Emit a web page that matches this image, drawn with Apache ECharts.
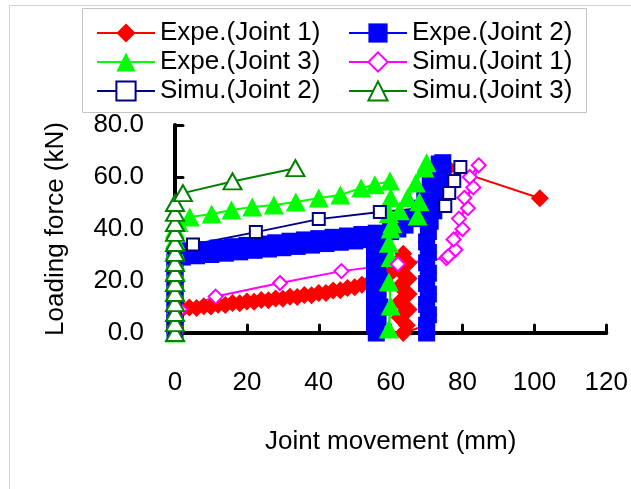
<!DOCTYPE html>
<html>
<head>
<meta charset="utf-8">
<title>Joint movement</title>
<script src="https://cdn.jsdelivr.net/npm/echarts@6.0.0/dist/echarts.min.js"></script>
<style>
  html, body { margin: 0; padding: 0; background: #fff; }
  #chart { width: 631px; height: 489px; }
</style>
</head>
<body>
<div id="chart"></div>
<script>
// 数据 [x(mm), y(kN)]
var expeJoint1 = [
  [0, 0], [0, 2], [0, 4], [0, 6], [0, 8], [0.3, 9],
  [2, 9.2], [4, 9.8], [6, 9.6], [8, 10.3], [10, 10.2], [12, 10.9], [14, 10.8], [16, 11.5],
  [18, 11.4], [20, 12.1], [22, 12], [24, 12.7], [26, 12.6], [28, 13.3], [30, 13.2], [32, 13.9],
  [34, 13.8], [36, 14.6], [38, 14.5], [40, 15.4], [42, 15.4], [44, 16.3], [46, 16.4], [48, 17.3],
  [50, 17.6], [52, 18.6], [54, 19.2], [56, 20.4], [58, 21.5], [60, 23], [61.5, 25.5], [62.5, 28], [63.5, 30.5],
  [65, 27], [62.5, 24], [65, 21], [62.5, 18], [65, 15], [62.5, 12], [65, 9], [62.5, 6], [64.5, 3], [63.5, 0],
  [70, 3], [70.5, 7], [70, 11], [70.5, 15], [70, 19], [70.5, 23], [70, 27], [70.5, 31], [70, 35], [70.5, 40],
  [71, 45], [71.5, 50], [72, 55], [73, 59], [74.5, 62], [76, 63.5], [101.5, 51.8]
]
var expeJoint2 = [
  [0, 0], [0, 3], [0, 6], [0, 9], [0, 12], [0, 15], [0, 18], [0, 21], [0, 24], [0, 27], [0, 30],
  [2, 29.2], [4, 31.6], [6, 29.7], [8, 32.1], [10, 30.2], [12, 32.7], [14, 30.7], [16, 33.2],
  [18, 31.2], [20, 33.7], [22, 31.8], [24, 34.2], [26, 32.3], [28, 34.7], [30, 32.8], [32, 35.3],
  [34, 33.3], [36, 35.8], [38, 33.8], [40, 36.3], [42, 34.4], [44, 36.8], [46, 34.9], [48, 37.3],
  [50, 35.4], [52, 37.9], [54, 35.9], [56, 38.4],
  [56.5, 36], [55.5, 33], [56.5, 30], [55.5, 27], [56.5, 24], [55.5, 21], [56.5, 18], [55.5, 15],
  [56.5, 12], [55.5, 9], [56.5, 6], [55.5, 3], [56, 0],
  [57, 10], [57, 20], [57, 30], [58, 38], [60, 39], [62, 40], [64, 41.5], [66, 44], [68, 48],
  [69.5, 53], [71, 58], [72.5, 62], [73.5, 65], [74.5, 65.5], [74.5, 61], [74, 57], [73, 52],
  [72, 47], [71, 43], [70.5, 39], [70, 35], [70.5, 31], [70, 27], [70.5, 23], [70, 19], [70.5, 15],
  [70, 11], [70.5, 7], [70, 3], [70, 0]
]
var expeJoint3 = [
  [0, 0], [0, 4], [0, 8], [0, 12], [0, 16], [0, 20], [0, 24], [0, 28], [0, 32], [0, 36], [0, 40], [1, 42.5],
  [4.1, 44.6], [10.2, 45.8], [15.7, 47.3], [21.5, 48.5], [27.5, 49.2], [33.6, 50.4], [40, 51.9],
  [46, 53.1], [51.8, 55.8], [55.6, 57], [59.8, 58.5],
  [60, 52], [59.5, 46], [60, 40], [59.5, 34.5], [60, 29], [59.5, 19.6], [60, 10.4], [59.5, 1.5],
  [60.5, 42], [62.5, 47], [64.7, 52], [67, 57.7], [69.4, 63.5], [70, 65.5], [68, 50.5], [67.5, 45]
]
var simuJoint1 = [
  [0, 0], [0, 2.5], [0, 5], [0, 7.5], [1.4, 9], [11.3, 14], [29.2, 19.2], [46.3, 23.8], [62, 26.5],
  [75.5, 28.8], [78, 32], [77.5, 36], [80, 40], [79, 44], [81.5, 48], [80.5, 52], [83, 56],
  [82, 60], [84.5, 64.5], [76, 29.5]
]
var simuJoint2 = [
  [0, 0], [0, 3], [0, 6], [0, 9], [0, 12], [0, 15], [0, 18], [0, 21], [0, 24], [0, 27], [0, 30],
  [5, 34], [22.5, 38.8], [40, 43.8], [57, 46.5], [75.2, 48.8], [76.3, 53.8], [77.7, 58.5], [79.4, 63.8]
]
var simuJoint3 = [
  [0, 0], [0, 3.8], [0, 7.7], [0, 11.5], [0, 15.4], [0, 19.2], [0, 23.1], [0, 26.9], [0, 30.8],
  [0, 34.6], [0, 38.5], [0, 42.3], [0, 46.2], [0, 50], [2.2, 53.8], [16, 58.3], [33.5, 63.4]
]
var xTicks = [0, 120, 20] // min, max, interval
var yTicks = [0, 80, 20]

var font = "'Liberation Sans', Arial, sans-serif"
var chart = echarts.init(document.getElementById('chart'))

function line(name, data, color, symbol, size) {
  return {
    name: name,
    type: 'line',
    data: data,
    symbol: symbol,
    symbolSize: size,
    showAllSymbol: true,
    clip: false,
    color: color,
    lineStyle: { color: color, width: 2 },
    itemStyle: { color: color, borderWidth: 2 },
    emphasis: { disabled: true }
  }
}

var legendText = { color: '#000', fontSize: 26, fontFamily: font }
var option = {
  animation: false,
  textStyle: { fontFamily: font },
  legend: [
    {
      orient: 'vertical', left: 96, top: 20, padding: 0, itemGap: 3,
      itemWidth: 58, itemHeight: 24, textStyle: legendText,
      data: ['Expe.(Joint 1)', 'Expe.(Joint 3)', 'Simu.(Joint 2)']
    },
    {
      orient: 'vertical', left: 348, top: 20, padding: 0, itemGap: 3,
      itemWidth: 58, itemHeight: 24, textStyle: legendText,
      data: ['Expe.(Joint 2)', 'Simu.(Joint 1)', 'Simu.(Joint 3)']
    }
  ],
  grid: { left: 175, top: 125, width: 436, height: 208 },
  xAxis: {
    type: 'value',
    min: xTicks[0], max: xTicks[1], interval: xTicks[2],
    name: 'Joint movement (mm)',
    nameLocation: 'middle',
    nameGap: 96,
    nameTextStyle: { color: '#000', fontSize: 26, fontFamily: font },
    axisLine: { lineStyle: { color: '#000', width: 4, cap: 'round' } },
    axisTick: { inside: true, length: 8, lineStyle: { color: '#000', width: 3, cap: 'round' } },
    axisLabel: { color: '#000', fontSize: 26, margin: 37, fontFamily: font },
    splitLine: { show: false }
  },
  yAxis: {
    type: 'value',
    min: yTicks[0], max: yTicks[1], interval: yTicks[2],
    name: 'Loading force (kN)',
    nameLocation: 'middle',
    nameGap: 106,
    nameTextStyle: { color: '#000', fontSize: 26, fontFamily: font },
    axisLine: { lineStyle: { color: '#000', width: 4, cap: 'round' } },
    axisTick: { inside: true, length: 8, lineStyle: { color: '#000', width: 3, cap: 'round' } },
    axisLabel: {
      color: '#000', fontSize: 26, margin: 31, fontFamily: font,
      formatter: function(v) { return v.toFixed(1) }
    },
    splitLine: { show: false }
  },
  graphic: [
    // 外框
    { type: 'line', silent: true, shape: { x1: 9.5, y1: 5.5, x2: 631, y2: 5.5 }, style: { stroke: '#cfcfcf', lineWidth: 1 } },
    { type: 'line', silent: true, shape: { x1: 9.5, y1: 5.5, x2: 9.5, y2: 489 }, style: { stroke: '#cfcfcf', lineWidth: 1 } },
    // 图例框
    { type: 'rect', silent: true, shape: { x: 82.5, y: 8.5, width: 504, height: 104 }, style: { fill: 'none', stroke: '#c4c4c4', lineWidth: 1 } }
  ],
  series: [
    line('Expe.(Joint 1)', expeJoint1, '#FF0000', 'diamond', [18, 18]),
    line('Expe.(Joint 2)', expeJoint2, '#0000FF', 'rect', 17),
    line('Expe.(Joint 3)', expeJoint3, '#00FF00', 'triangle', [20, 19]),
    line('Simu.(Joint 1)', simuJoint1, '#FF00FF', 'emptyDiamond', 14),
    line('Simu.(Joint 2)', simuJoint2, '#000080', 'emptyRect', 12),
    line('Simu.(Joint 3)', simuJoint3, '#008000', 'emptyTriangle', [18, 16])
  ]
}
chart.setOption(option)
window.addEventListener('resize', function() {
  chart.resize()
})
</script>
</body>
</html>
